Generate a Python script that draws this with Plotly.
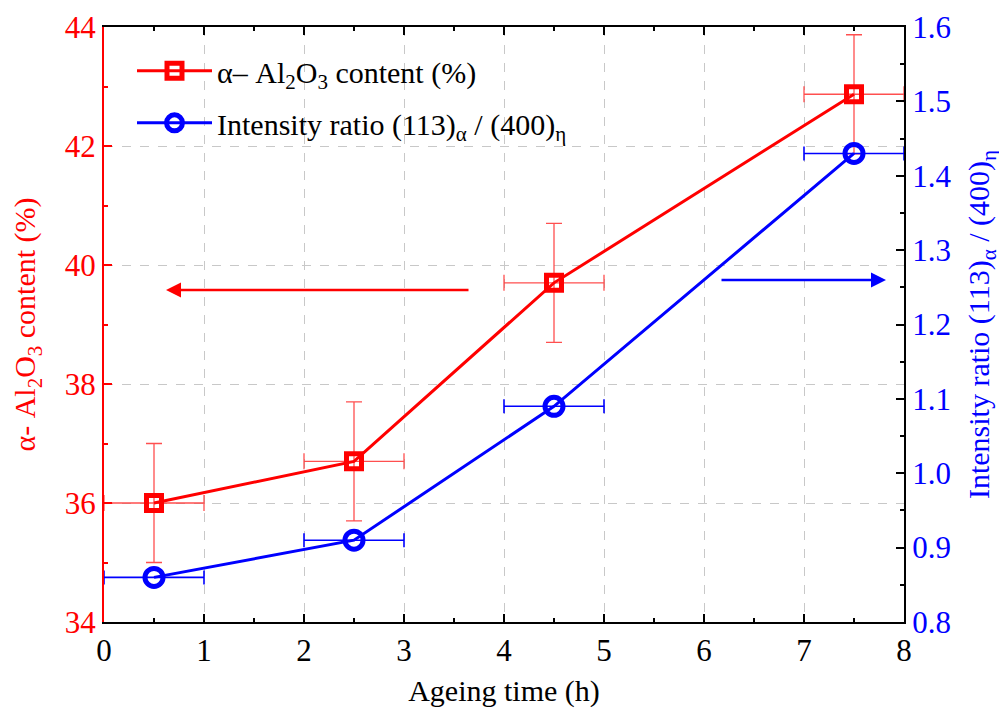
import plotly.graph_objects as go

time_h = [0.5, 2.5, 4.5, 7.5]
alpha_content = [36.0, 36.7, 39.7, 42.87]
alpha_err = [1.0, 1.0, 1.0, 1.0]
time_err = [0.5, 0.5, 0.5, 0.5]
intensity_ratio = [0.86, 0.91, 1.09, 1.43]

FONT = "Times New Roman, Liberation Serif, DejaVu Serif, serif"
RED = "#ff0000"
BLUE = "#0000ff"

fig = go.Figure()

fig.add_trace(go.Scatter(
    x=time_h, y=alpha_content, mode="lines+markers",
    name="α– Al<sub>2</sub>O<sub>3</sub> content (%)", legendgroup="a",
    line=dict(color=RED, width=3),
    marker=dict(symbol="square-open", size=15, color=RED, line=dict(width=5, color=RED)),
    error_y=dict(type="data", array=alpha_err, color="rgba(255,60,60,0.9)", thickness=1.3, width=8),
    error_x=dict(type="data", array=time_err, color="rgba(255,60,60,0.9)", thickness=1.3, width=8),
    yaxis="y",
))

fig.add_trace(go.Scatter(
    x=time_h, y=intensity_ratio, mode="lines+markers",
    name="Intensity ratio (113)<sub>α</sub> / (400)<sub>η</sub>", legendgroup="b",
    line=dict(color=BLUE, width=3),
    marker=dict(symbol="circle-open", size=18, color=BLUE, line=dict(width=5, color=BLUE)),
    error_x=dict(type="data", array=time_err, color=BLUE, thickness=1.6, width=7),
    yaxis="y2",
))

fig.add_annotation(x=0.62, y=39.58, ax=3.66, ay=39.58, xref="x", yref="y", axref="x", ayref="y",
                   showarrow=True, arrowhead=2, arrowsize=1.2, arrowwidth=2.5, arrowcolor=RED, text="")
fig.add_annotation(x=7.82, y=39.75, ax=6.16, ay=39.75, xref="x", yref="y", axref="x", ayref="y",
                   showarrow=True, arrowhead=2, arrowsize=1.2, arrowwidth=2.5, arrowcolor=BLUE, text="")

fig.update_layout(
    width=1007, height=713,
    margin=dict(l=96, r=111, t=19, b=99, autoexpand=False),
    paper_bgcolor="white", plot_bgcolor="white",
    font=dict(family=FONT, size=30, color="black"),
    showlegend=True,
    legend=dict(x=0.035, y=0.97, xanchor="left", yanchor="top", bgcolor="rgba(0,0,0,0)",
                font=dict(family=FONT, size=30), tracegroupgap=10, itemwidth=75),
    xaxis=dict(
        range=[0, 8], dtick=1, tick0=0, automargin=False,
        showline=True, linecolor="black", linewidth=2, mirror="ticks",
        ticks="inside", ticklen=8, tickwidth=1.5, tickcolor="black",
        minor=dict(dtick=0.5, ticks="inside", ticklen=4, tickcolor="black", showgrid=False),
        showgrid=True, gridcolor="#c8c8c8", griddash="dash", gridwidth=1,
        zeroline=False,
        tickfont=dict(family=FONT, size=31, color="black"),
        title=dict(text="Ageing time (h)", font=dict(family=FONT, size=30, color="black"), standoff=13),
    ),
    yaxis=dict(
        range=[34, 44], dtick=2, tick0=34, automargin=False,
        showline=True, linecolor=RED, linewidth=2,
        ticks="inside", ticklen=8, tickwidth=1.5, tickcolor=RED,
        minor=dict(dtick=1, ticks="inside", ticklen=4, tickcolor=RED, showgrid=False),
        showgrid=True, gridcolor="#c8c8c8", griddash="dash", gridwidth=1,
        zeroline=False,
        tickfont=dict(family=FONT, size=31, color=RED),
        title=dict(text="α- Al<sub>2</sub>O<sub>3</sub> content (%)", font=dict(family=FONT, size=30, color=RED), standoff=20),
    ),
    yaxis2=dict(
        range=[0.8, 1.6], dtick=0.1, tick0=0.8, tickformat=".1f", automargin=False,
        overlaying="y", side="right",
        showline=True, linecolor="black", linewidth=2,
        ticks="inside", ticklen=8, tickwidth=1.5, tickcolor="black",
        minor=dict(dtick=0.05, ticks="inside", ticklen=4, tickcolor="black", showgrid=False),
        showgrid=False, zeroline=False,
        tickfont=dict(family=FONT, size=31, color=BLUE),
        title=dict(text="Intensity ratio (113)<sub>α</sub> / (400)<sub>η</sub>", font=dict(family=FONT, size=30, color=BLUE), standoff=18),
    ),
)

fig.write_html("out.html")
